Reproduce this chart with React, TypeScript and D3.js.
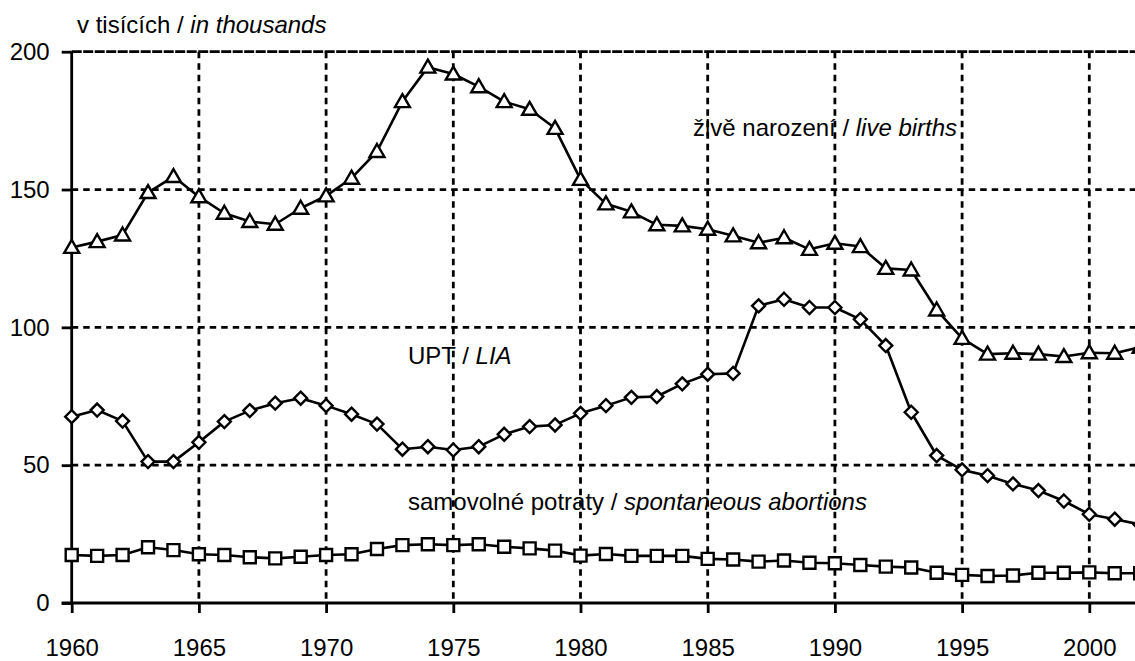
import React, { useEffect, useRef } from "react";
import * as d3 from "d3";

// years 1960-2002
const years = d3.range(1960, 2003);

// values in thousands
const liveBirths = [
  129.0, 131.1, 133.5, 148.9, 154.7, 147.4, 141.4, 138.4, 137.4, 143.2,
  147.7, 154.1, 163.8, 181.9, 194.4, 191.9, 187.3, 181.9, 179.1, 172.2,
  153.7, 144.8, 141.9, 137.2, 136.8, 135.6, 133.2, 130.7, 132.5, 128.3,
  130.5, 129.3, 121.4, 120.8, 106.3, 96.0, 90.3, 90.6, 90.3, 89.4,
  90.8, 90.6, 92.8,
];
const lia = [
  67.6, 70.0, 66.0, 51.3, 51.3, 58.3, 65.8, 69.8, 72.5, 74.3,
  71.6, 68.5, 64.9, 55.8, 56.7, 55.5, 56.7, 61.2, 64.0, 64.6,
  68.8, 71.6, 74.6, 74.9, 79.5, 83.0, 83.3, 107.8, 110.2, 107.2,
  107.2, 102.9, 93.4, 69.2, 53.5, 48.3, 46.2, 43.2, 40.8, 37.0,
  32.2, 30.4, 28.5,
];
const spontaneous = [
  17.4, 17.1, 17.4, 20.2, 19.2, 17.7, 17.4, 16.6, 16.2, 16.8,
  17.4, 17.7, 19.6, 21.0, 21.3, 21.0, 21.3, 20.4, 19.8, 19.0,
  17.2, 17.8, 17.1, 17.1, 17.1, 16.0, 15.8, 15.0, 15.4, 14.6,
  14.4, 13.8, 13.2, 12.9, 11.0, 10.2, 9.8, 10.0, 11.0, 11.0,
  11.1, 10.8, 10.8,
];

const yTicks = [0, 50, 100, 150, 200];
const xTicks = [1960, 1965, 1970, 1975, 1980, 1985, 1990, 1995, 2000];

const W = 1135;
const H = 661;
const FONT = "'Liberation Sans', Arial, sans-serif";

export default function App() {
  const ref = useRef<SVGSVGElement>(null);

  useEffect(() => {
    if (!ref.current) return;
    const svg = d3.select(ref.current);
    svg.selectAll("*").remove();

    const x = d3.scaleLinear().domain([1960, 2002]).range([71.7, 71.7 + 42 * 25.44]);
    const y = d3.scaleLinear().domain([0, 200]).range([603, 51.7]);

    // series labels (gridlines are drawn over them, like the original)
    const labels = svg.append("g").style("font-family", FONT).style("font-size", "24px");
    const addLabel = (tx: number, ty: number, plain: string, italic: string) => {
      const t = labels.append("text").attr("x", tx).attr("y", ty);
      t.append("tspan").text(plain);
      t.append("tspan").style("font-style", "italic").text(italic);
    };
    addLabel(77, 33, "v tisících / ", "in thousands");
    addLabel(693, 136, "živě narození / ", "live births");
    addLabel(408, 364, "UPT / ", "LIA");
    addLabel(408, 510, "samovolné potraty / ", "spontaneous abortions");

    // gridlines
    const grid = svg.append("g").attr("stroke", "#000").attr("stroke-width", 2.8);
    grid
      .selectAll("line.h")
      .data(yTicks.filter((d) => d > 0))
      .enter()
      .append("line")
      .attr("x1", x(1960))
      .attr("x2", W)
      .attr("y1", (d) => y(d))
      .attr("y2", (d) => y(d))
      .attr("stroke-dasharray", (d) => (d === 200 ? "10,1.5" : "6.5,5"));
    grid
      .selectAll("line.v")
      .data(xTicks.filter((d) => d > 1960))
      .enter()
      .append("line")
      .attr("x1", (d) => x(d))
      .attr("x2", (d) => x(d))
      .attr("y1", y(200))
      .attr("y2", y(0))
      .attr("stroke-dasharray", "6.5,5");

    // axes
    const yAxis = svg
      .append("g")
      .attr("transform", `translate(${x(1960)},0)`)
      .call(d3.axisLeft(y).tickValues(yTicks).tickSize(10).tickPadding(12));
    const xAxis = svg
      .append("g")
      .attr("transform", `translate(0,${y(0)})`)
      .call(d3.axisBottom(x).tickValues(xTicks).tickSize(10).tickPadding(26).tickFormat(d3.format("d")));
    [yAxis, xAxis].forEach((ax) => {
      ax.select(".domain").remove();
      ax.selectAll("line").attr("stroke", "#000").attr("stroke-width", 2.8);
      ax.selectAll("text")
        .attr("fill", "#000")
        .style("font-family", FONT)
        .style("font-size", "24px");
    });
    xAxis.selectAll("text").attr("dy", "0.71em");
    svg
      .append("line")
      .attr("x1", x(1960))
      .attr("x2", x(1960))
      .attr("y1", y(200))
      .attr("y2", y(0))
      .attr("stroke", "#000")
      .attr("stroke-width", 2.8);
    svg
      .append("line")
      .attr("x1", x(1960) - 10)
      .attr("x2", W)
      .attr("y1", y(0))
      .attr("y2", y(0))
      .attr("stroke", "#000")
      .attr("stroke-width", 3);

    const line = d3
      .line<number>()
      .x((_, i) => x(years[i]))
      .y((d) => y(d));

    const series = [
      { values: liveBirths, marker: "M0,-7.5L7.5,5.5L-7.5,5.5Z" },
      { values: lia, marker: "M0,-6.5L6.5,0L0,6.5L-6.5,0Z" },
      { values: spontaneous, marker: "M-6,-6H6V6H-6Z" },
    ];

    series.forEach((s) => {
      svg
        .append("path")
        .datum(s.values)
        .attr("d", line)
        .attr("fill", "none")
        .attr("stroke", "#000")
        .attr("stroke-width", 2.6)
        .attr("stroke-linejoin", "round");
      svg
        .append("g")
        .selectAll("path")
        .data(s.values)
        .enter()
        .append("path")
        .attr("transform", (d, i) => `translate(${x(years[i])},${y(d)})`)
        .attr("d", s.marker)
        .attr("fill", "#fff")
        .attr("stroke", "#000")
        .attr("stroke-width", 2.4);
    });
  }, []);

  return (
    <div style={{ position: "absolute", left: 0, top: 0, width: W, height: H, background: "#fff" }}>
      <svg ref={ref} width={W} height={H} style={{ display: "block" }}></svg>
    </div>
  );
}
